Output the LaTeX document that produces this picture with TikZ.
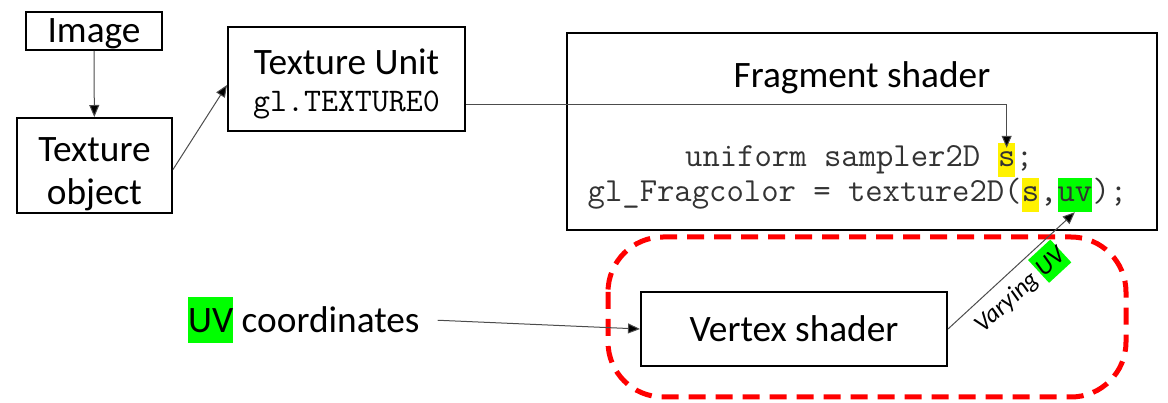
\documentclass[tikz,border=0pt]{standalone}
\usepackage{fontspec}
\setmainfont{Carlito}
\usetikzlibrary{arrows.meta}

\newcommand\bigfont{\fontsize{37.3}{43}\selectfont}
\newcommand\codefont{\ttfamily\fontsize{33.7}{38}\selectfont}
\newcommand\smallit{\itshape\fontsize{25}{30}\selectfont}
\newcommand\hlbig[1]{{\setlength\fboxsep{0pt}\colorbox{green}{\rule[-10pt]{0pt}{45.5pt}#1}}}
\newcommand\hlsmall[1]{{\setlength\fboxsep{0pt}\colorbox{green}{\rule[-7pt]{0pt}{31pt}#1}}}

\begin{document}
\begin{tikzpicture}[x=1pt,y=-1pt,
  box/.style={draw=black, line width=2pt, inner sep=0pt, font=\bigfont},
  arr/.style={draw=black!70, line width=1pt, -{Triangle[length=12pt,width=10pt,fill=black]}},
  code/.style={inner sep=0pt, anchor=base west, font=\codefont, text=black!80},
  hly/.style={fill=yellow, text height=24pt, text depth=10pt},
  hlg/.style={fill=green, text height=24pt, text depth=10pt},
  group/.style={draw=red, line width=5pt, dash pattern=on 17pt off 10pt, rounded corners=55pt}
]
\useasboundingbox (0,0) rectangle (1168,403);

% boxes
\node[box, minimum width=136pt, minimum height=38pt, text depth=0pt] (img) at (94,31) {Image};
\node[box, minimum width=155pt, minimum height=95pt, align=center] (tobj) at (94.5,165.5) {\rule{0pt}{42pt}Texture\\object};
\node[box, minimum width=237pt, minimum height=104pt, align=center] (tu) at (346.5,79) {\rule{0pt}{36pt}Texture Unit\\[-6pt]{\codefont\fontsize{33}{38}\selectfont gl.TEXTURE0}};
\node[box, minimum width=590pt, minimum height=197pt] (fs) at (862,131.5) {};
\node[font=\bigfont, anchor=base, inner sep=0pt] (fst) at (862,88) {Fragment shader};

% code lines
\node[code] (c1a) at (685,167) {uniform sampler2D\mbox{\ }};
\node[code, hly] (s1) at (c1a.base east) {s};
\node[code] (c1b) at (s1.base east) {;};
\node[code] (c2a) at (587.5,202) {gl\_Fragcolor = texture2D(};
\node[code, hly] (s2) at (c2a.base east) {s};
\node[code] (c2b) at (s2.base east) {,};
\node[code, hlg] (uv) at (c2b.base east) {uv};
\node[code] (c2c) at (uv.base east) {);};

% vertex part
\draw[group] (608,237) rectangle (1126,397);
\node[box, minimum width=306pt, minimum height=74pt] (vs) at (794,329) {Vertex shader};
\node[font=\bigfont, inner sep=0pt, anchor=base west] (uvc) at (188,333) {\hlbig{UV} coordinates};

% connectors
\draw[arr] (img) -- (tobj);
\draw[arr] ([yshift=-4pt]tobj.east) -- ([yshift=-6pt]tu.west);
\draw[arr] ([yshift=-26pt]tu.east) -| ([yshift=-5pt]s1.north);
\draw[arr] ([xshift=18pt]uvc.east) -- (vs.west);
\draw[arr] (vs.east) -- node[sloped, below, pos=0.46, font=\smallit, inner sep=3pt] (vuv) {Varying \hlsmall{UV}} (uv.south);
\end{tikzpicture}
\end{document}
